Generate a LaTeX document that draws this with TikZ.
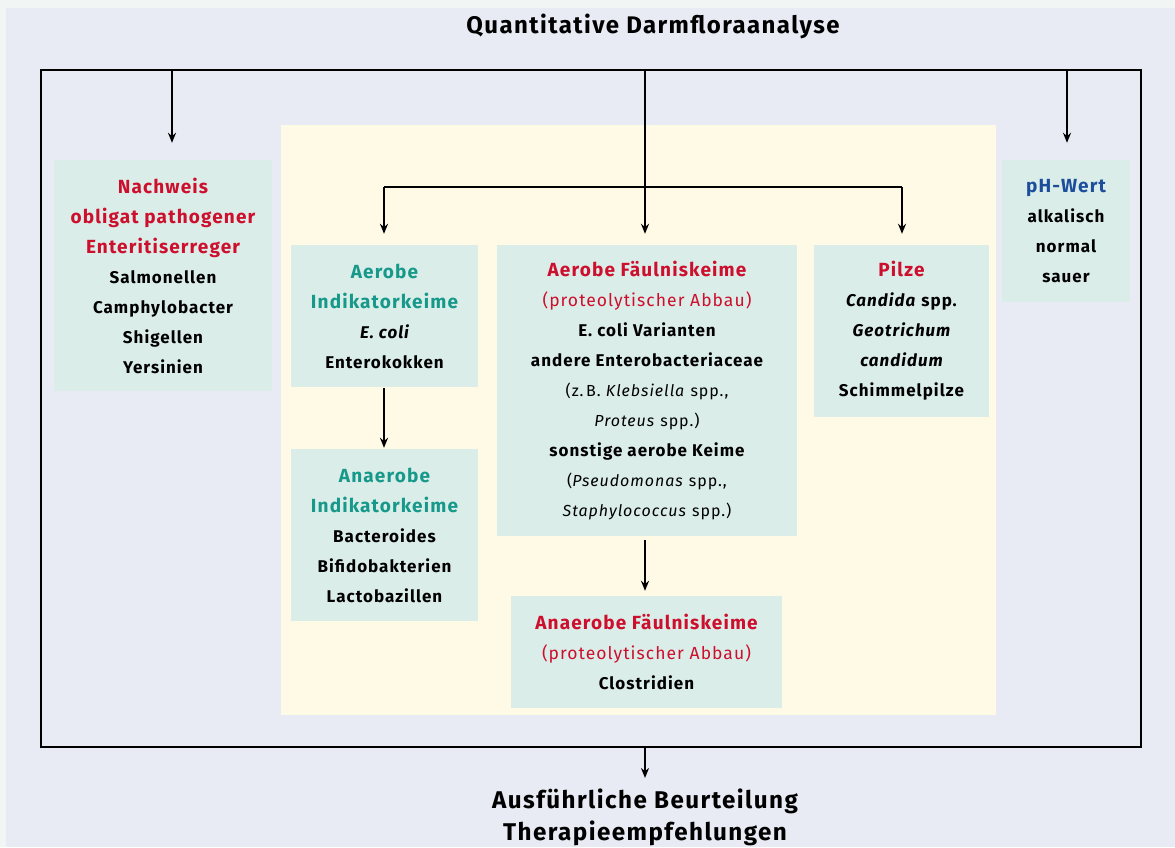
\documentclass[tikz,border=0pt]{standalone}
\usepackage{fontspec}
\setmainfont[LetterSpace=6]{Fira Sans}
\usetikzlibrary{arrows.meta}
\definecolor{bgout}{HTML}{F1F6F4}
\definecolor{lav}{HTML}{E8EAF4}
\definecolor{yel}{HTML}{FEFAE6}
\definecolor{boxf}{HTML}{DAEDE8}
\definecolor{rd}{HTML}{CE0E2D}
\definecolor{tl}{HTML}{16998A}
\definecolor{bl}{HTML}{1C4E9C}
\newcommand\hdf{\fontsize{19}{30}\selectfont\bfseries}
\newcommand\bdf{\fontsize{17}{30}\selectfont\bfseries}
\newcommand\smf{\fontsize{16}{30}\selectfont}
\newcommand\rgf{\fontsize{17.5}{30}\selectfont}
\tikzset{
  x=1pt,y=-1pt,
  box/.style={fill=boxf, inner sep=0pt, align=center, font=\fontsize{17}{30}\selectfont},
  arr/.style={line width=1.9pt, -{Stealth[length=10pt,width=8pt]}},
  ln/.style={line width=1.9pt},
}
\begin{document}
\begin{tikzpicture}
\useasboundingbox (0,0) rectangle (1175,847);
\fill[bgout] (0,0) rectangle (1175,847);
\fill[lav] (6,8) rectangle (1175,847);
\fill[yel] (281,125) rectangle (996,715);

\node[font=\fontsize{24}{30}\selectfont\bfseries] (title) at (653,26) {Quantitative Darmfloraanalyse};

\node[box, minimum width=218pt, minimum height=231pt] (nach) at (163,275.5)
 {{\hdf\color{rd}Nachweis}\\{\hdf\color{rd}obligat pathogener}\\{\hdf\color{rd}Enteritiserreger}\\{\bdf Salmonellen}\\{\bdf Camphylobacter}\\{\bdf Shigellen}\\{\bdf Yersinien}};

\node[box, minimum width=128pt, minimum height=142pt] (ph) at (1066,231)
 {{\hdf\color{bl}pH-Wert}\\{\bdf alkalisch}\\{\bdf normal}\\{\bdf sauer}};

\node[box, minimum width=187pt, minimum height=142pt] (aind) at (384.5,316)
 {{\hdf\color{tl}Aerobe}\\{\hdf\color{tl}Indikatorkeime}\\{\bdf\itshape E. coli}\\{\bdf Enterokokken}};

\node[box, minimum width=300pt, minimum height=291pt] (afaul) at (647,390.5)
 {{\hdf\color{rd}Aerobe Fäulniskeime}\\{\rgf\color{rd}(proteolytischer Abbau)}\\{\bdf E. coli Varianten}\\{\bdf andere Enterobacteriaceae}\\{\smf (z.\,B.\ \textit{Klebsiella} spp.,}\\{\smf\textit{Proteus} spp.)}\\{\bdf sonstige aerobe Keime}\\{\smf (\textit{Pseudomonas} spp.,}\\{\smf\textit{Staphylococcus} spp.)}};

\node[box, minimum width=175pt, minimum height=172pt] (pilze) at (901.5,331)
 {{\hdf\color{rd}Pilze}\\{\bdf\textit{Candida} spp.}\\{\bdf\itshape Geotrichum}\\{\bdf\itshape candidum}\\{\bdf Schimmelpilze}};

\node[box, minimum width=187pt, minimum height=172pt] (anind) at (384.5,535)
 {{\hdf\color{tl}Anaerobe}\\{\hdf\color{tl}Indikatorkeime}\\{\bdf Bacteroides}\\{\bdf Bifidobakterien}\\{\bdf Lactobazillen}};

\node[box, minimum width=271pt, minimum height=112pt] (anfaul) at (646.5,652)
 {{\hdf\color{rd}Anaerobe Fäulniskeime}\\{\rgf\color{rd}(proteolytischer Abbau)}\\{\bdf Clostridien}};

\node[align=center, font=\fontsize{24.2}{32}\selectfont\bfseries] (end) at (645,817)
 {Ausführliche Beurteilung\\Therapieempfehlungen};

% frame
\coordinate (fl) at (41,70);
\coordinate (fr) at (1141,747);
\draw[ln] (fl) rectangle (fr);
\coordinate (t1) at (172,70);
\coordinate (t2) at (645,70);
\coordinate (t3) at (1067,70);
\coordinate (b1) at (645,747);
\coordinate (br1) at (384,187);
\coordinate (br2) at (902,187);

\draw[arr, shorten >=17pt] (t1) -- (t1 |- nach.north);
\draw[arr, shorten >=17pt] (t3) -- (t3 |- ph.north);
\draw[arr, shorten >=11pt] (t2) -- (t2 |- afaul.north);
\draw[ln] (br1) -- (br2);
\draw[arr, shorten >=11pt] (br1) -- (br1 |- aind.north);
\draw[arr, shorten >=11pt] (br2) -- (br2 |- pilze.north);
\draw[arr, shorten <=1pt, shorten >=1pt] (aind.south -| br1) -- (anind.north -| br1);
\draw[arr, shorten <=4pt, shorten >=5pt] (afaul.south -| t2) -- (anfaul.north -| t2);
\draw[arr, shorten >=7pt] (b1) -- (b1 |- end.north);
\end{tikzpicture}
\end{document}
